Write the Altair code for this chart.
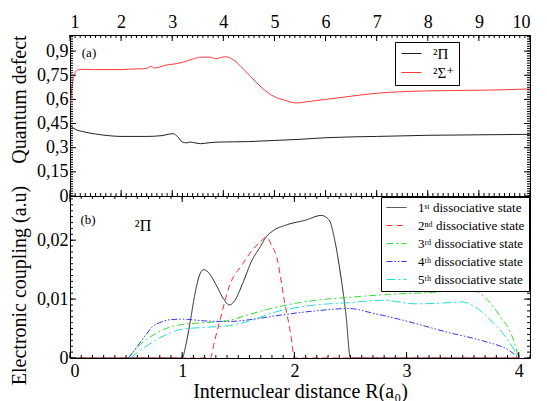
import altair as alt
import pandas as pd
import numpy as np

FONT = "'Liberation Serif', 'Times New Roman', 'DejaVu Serif', serif"

# ---------------- panel (a): quantum defect ----------------
pi_R = [1.0, 1.1, 1.25, 1.5, 1.75, 2.0, 2.5, 2.8, 2.95, 3.02, 3.1, 3.2, 3.28, 3.35, 3.42, 3.55, 3.7, 3.9, 4.5, 5.0,
        5.5, 6.0, 7.0, 8.0, 9.0, 10.0]
pi_qd = [0.44, 0.415, 0.40, 0.385, 0.375, 0.37, 0.37, 0.375, 0.385, 0.387, 0.37, 0.335, 0.33, 0.335, 0.332, 0.325,
         0.33, 0.335, 0.338, 0.345, 0.352, 0.362, 0.37, 0.377, 0.38, 0.383]
sig_R = [1.0, 1.05, 1.1, 1.15, 1.25, 1.5, 2.0, 2.3, 2.45, 2.52, 2.58, 2.65, 2.75, 2.9, 3.0, 3.2, 3.4, 3.55, 3.75, 3.85,
         3.95, 4.05, 4.2, 4.39, 4.58, 4.78, 4.98, 5.2, 5.43, 5.7, 6.0, 6.5, 7.0, 7.5, 8.0, 8.5, 9.0, 9.5, 10.0]
sig_qd = [0.56, 0.70, 0.765, 0.783, 0.787, 0.785, 0.785, 0.79, 0.79, 0.795, 0.805, 0.795, 0.80, 0.815, 0.818, 0.83,
          0.85, 0.862, 0.862, 0.852, 0.86, 0.865, 0.845, 0.79, 0.727, 0.665, 0.62, 0.595, 0.578, 0.588, 0.60, 0.62,
          0.638, 0.648, 0.653, 0.655, 0.657, 0.66, 0.665]
top_names = ["²Π", "²Σ⁺"]
top_colors = ["#222222", "#ff3a3a"]

# ---------------- panel (b): electronic coupling ----------------
d1_R = [0.0, 1.0, 1.03, 1.07, 1.11, 1.15, 1.19, 1.23, 1.3, 1.37, 1.42, 1.47, 1.54, 1.62, 1.69, 1.75, 1.81, 1.93,
        2.1, 2.24, 2.31, 2.36, 2.4, 2.46, 2.5, 4.0]
d1_c = [0, 0, 0.002, 0.006, 0.0105, 0.0138, 0.015, 0.0146, 0.0125, 0.010, 0.009, 0.0098, 0.0127, 0.0165, 0.0187,
        0.0206, 0.0216, 0.0226, 0.0234, 0.0242, 0.0234, 0.020, 0.0156, 0.0073, 0.0, 0.0]
d2_R = [0.0, 1.25, 1.29, 1.33, 1.42, 1.54, 1.62, 1.69, 1.75, 1.80, 1.84, 1.91, 1.97, 2.0, 4.0]
d2_c = [0, 0, 0.003, 0.0059, 0.0122, 0.016, 0.0182, 0.0196, 0.0205, 0.019, 0.0173, 0.0098, 0.0037, 0, 0]
d3_R = [0.52, 0.6, 0.68, 0.83, 1.0, 1.2, 1.42, 1.6, 1.81, 2.19, 2.49, 2.93, 3.2, 3.38, 3.55, 3.62, 3.68, 3.83, 3.95, 4.0]
d3_c = [0, 0.0018, 0.0031, 0.0048, 0.0057, 0.006, 0.0064, 0.0074, 0.0085, 0.0098, 0.0103, 0.0109, 0.0111, 0.0114,
        0.012, 0.0114, 0.0106, 0.0072, 0.0032, 0]
d4_R = [0.52, 0.57, 0.62, 0.68, 0.74, 0.8, 0.89, 1.0, 1.2, 1.42, 1.6, 1.81, 2.19, 2.49, 2.7, 2.93, 3.38, 3.68, 3.92, 4.0]
d4_c = [0, 0.0012, 0.0025, 0.004, 0.0054, 0.006, 0.0065, 0.0066, 0.0063, 0.0062, 0.0065, 0.0071, 0.008, 0.0084,
        0.0076, 0.0066, 0.0043, 0.0029, 0.0012, 0]
d5_R = [0.54, 0.6, 0.68, 0.83, 1.0, 1.2, 1.42, 1.6, 1.81, 2.19, 2.49, 2.79, 3.08, 3.3, 3.5, 3.59, 3.77, 3.92, 4.0]
d5_c = [0, 0.0009, 0.002, 0.0037, 0.0049, 0.0052, 0.0055, 0.0063, 0.0077, 0.009, 0.0094, 0.0098, 0.0092, 0.0093,
        0.0095, 0.0089, 0.006, 0.0026, 0]
bot_names = ["1ˢᵗ dissociative state", "2ⁿᵈ dissociative state", "3ʳᵈ dissociative state",
             "4ᵗʰ dissociative state", "5ᵗʰ dissociative state"]
bot_colors = ["#222222", "#ff2a2a", "#33e033", "#3333ee", "#22dddd"]
bot_dash = [[1, 0], [6, 4], [7, 3, 2, 3], [6, 2, 1.5, 2, 1.5, 2], [9, 3, 2, 3]]

# tick values
top_x_major = [1, 2, 3, 4, 5, 6, 7, 8, 9, 10]
top_x_minor = [round(v, 2) for v in np.arange(1.0, 10.001, 0.1)]
top_y_major = [0, 0.15, 0.3, 0.45, 0.6, 0.75, 0.9]
top_y_minor = [round(v, 4) for v in np.arange(0.0, 1.0001, 0.015)]
bot_x_major = [0, 1, 2, 3, 4]
bot_x_minor = [round(v, 2) for v in np.arange(0.0, 4.1001, 0.1)]
bot_y_major = [0, 0.01, 0.02]
bot_y_minor = [round(v, 4) for v in np.arange(0.0, 0.0275, 0.001)]

W = 460
H1 = 161
H2 = 162
COMMA = "replace(format(datum.value, '.3~f'), '.', ',')"
LINE_SYMBOL = "M-2,0H2"


def tick_layers(xs, ys, xax, yax, xmaj, xmin, ymaj, ymin, H):
    layers = []
    for vals, ln in [(xmaj, 6), (xmin, 3)]:
        df = pd.DataFrame({"v": vals})
        layers.append(alt.Chart(df).mark_rule(color="black", strokeWidth=1).encode(
            x=alt.X("v:Q", scale=xs, axis=xax), y=alt.value(0), y2=alt.value(ln)))
        layers.append(alt.Chart(df).mark_rule(color="black", strokeWidth=1).encode(
            x=alt.X("v:Q", scale=xs, axis=xax), y=alt.value(H), y2=alt.value(H - ln)))
    for vals, ln in [(ymaj, 6), (ymin, 3)]:
        df = pd.DataFrame({"v": vals})
        layers.append(alt.Chart(df).mark_rule(color="black", strokeWidth=1).encode(
            y=alt.Y("v:Q", scale=ys, axis=yax), x=alt.value(0), x2=alt.value(ln)))
        layers.append(alt.Chart(df).mark_rule(color="black", strokeWidth=1).encode(
            y=alt.Y("v:Q", scale=ys, axis=yax), x=alt.value(W), x2=alt.value(W - ln)))
    return layers


def text_layer(txt, x, y, size):
    return alt.Chart(pd.DataFrame({"t": [txt]})).mark_text(
        font=FONT, fontSize=size, color="black", align="center", baseline="middle"
    ).encode(text="t:N", x=alt.value(x), y=alt.value(y))


# ---------- top chart ----------
top_df = pd.concat([
    pd.DataFrame({"R": pi_R, "qd": pi_qd, "s": top_names[0]}),
    pd.DataFrame({"R": sig_R, "qd": sig_qd, "s": top_names[1]}),
])
xs_top = alt.Scale(domain=[1, 10], nice=False, zero=False)
ys_top = alt.Scale(domain=[0, 1.0], nice=False, zero=False)
xax_top = alt.Axis(orient="top", values=top_x_major, format="d", title=None, labelPadding=4)
yax_top = alt.Axis(values=top_y_major, labelExpr=COMMA, title="Quantum defect",
                   labelPadding=2, titleX=-41, titleY=64)
top_leg = alt.Legend(orient="none", legendX=325, legendY=7, title=None, fillColor="white",
                     strokeColor="black", padding=4, labelFont=FONT, labelFontSize=15,
                     labelColor="black", symbolType=LINE_SYMBOL, symbolSize=100, symbolStrokeWidth=1,
                     symbolOffset=5, rowPadding=3, labelOffset=14)
top_lines = alt.Chart(top_df).mark_line(strokeWidth=1, interpolate="monotone", clip=True).encode(
    x=alt.X("R:Q", scale=xs_top, axis=xax_top),
    y=alt.Y("qd:Q", scale=ys_top, axis=yax_top),
    color=alt.Color("s:N", scale=alt.Scale(domain=top_names, range=top_colors), legend=top_leg),
    detail="s:N",
)
top = alt.layer(
    top_lines,
    *tick_layers(xs_top, ys_top, xax_top, yax_top, top_x_major, top_x_minor, top_y_major, top_y_minor, H1),
    text_layer("(a)", 19, 18, 13),
).properties(width=W, height=H1)

# ---------- bottom chart ----------
bot_df = pd.concat([
    pd.DataFrame({"R": R, "c": c, "st": n})
    for R, c, n in zip([d1_R, d2_R, d3_R, d4_R, d5_R], [d1_c, d2_c, d3_c, d4_c, d5_c], bot_names)
])
xs_bot = alt.Scale(domain=[0, 4.1], nice=False, zero=False)
ys_bot = alt.Scale(domain=[0, 0.0275], nice=False, zero=False)
xax_bot = alt.Axis(values=bot_x_major, format="d", title="Internuclear distance R(a₀)",
                   labelPadding=4, titlePadding=1)
yax_bot = alt.Axis(values=bot_y_major, labelExpr=COMMA, title="Electronic coupling (a.u)",
                   labelPadding=2, titleX=-41, titleY=89)
bot_leg = alt.Legend(orient="none", legendX=311, legendY=1, title=None, fillColor="white",
                     strokeColor="black", padding=4, labelFont=FONT, labelFontSize=13,
                     labelColor="black", symbolType=LINE_SYMBOL, symbolSize=100, symbolStrokeWidth=1,
                     symbolOffset=5, rowPadding=4, labelOffset=15)
bot_lines = alt.Chart(bot_df).mark_line(strokeWidth=1, interpolate="monotone", clip=True).encode(
    x=alt.X("R:Q", scale=xs_bot, axis=xax_bot),
    y=alt.Y("c:Q", scale=ys_bot, axis=yax_bot),
    color=alt.Color("st:N", scale=alt.Scale(domain=bot_names, range=bot_colors), legend=bot_leg),
    strokeDash=alt.StrokeDash("st:N", scale=alt.Scale(domain=bot_names, range=bot_dash), legend=bot_leg),
)
bot = alt.layer(
    bot_lines,
    *tick_layers(xs_bot, ys_bot, xax_bot, yax_bot, bot_x_major, bot_x_minor, bot_y_major, bot_y_minor, H2),
    text_layer("(b)", 18, 24, 13),
    text_layer("²Π", 73, 30, 16),
).properties(width=W, height=H2)

chart = alt.vconcat(top, bot, spacing=0, bounds="flush").resolve_scale(
    color="independent", strokeDash="independent"
).properties(
    padding={"left": 0, "top": 4, "right": 0, "bottom": 0}
).configure_view(
    stroke="black", strokeWidth=1
).configure_axis(
    labelFont=FONT, labelFontSize=18, labelColor="black", titleFont=FONT, titleFontSize=20,
    titleFontWeight="normal", titleColor="black", ticks=False, domain=False, grid=False,
    labelOverlap=False
)

chart.save("out.html", embed_options={"renderer": "svg", "actions": False})
